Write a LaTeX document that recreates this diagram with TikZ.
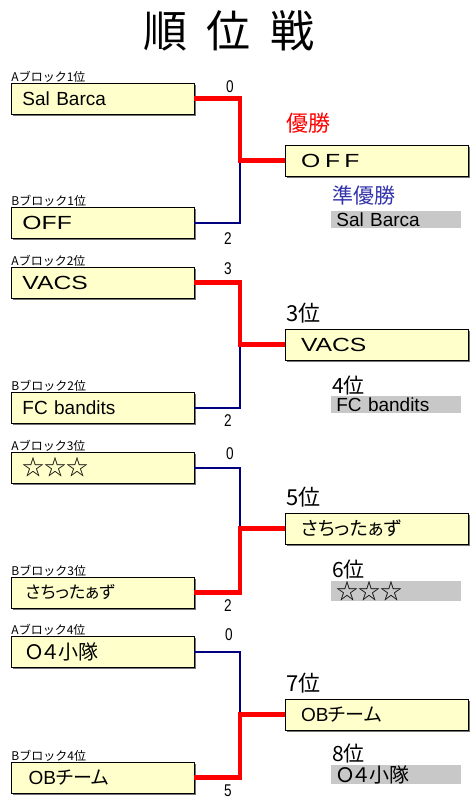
\documentclass[tikz,border=0pt]{standalone}
\usepackage{fontspec}
\setmainfont{Liberation Sans}
\newfontfamily\jpfont{Noto Sans CJK JP}
\newfontfamily\jppfont[RawFeature=+palt]{Noto Sans CJK JP}
\newfontfamily\widefont[FakeStretch=1.3]{Liberation Sans}
\newfontfamily\narrowfont[FakeStretch=0.8]{Liberation Sans}
\usetikzlibrary{positioning, shadows}
\definecolor{teamfill}{RGB}{255, 255, 204}
\definecolor{winred}{RGB}{255, 0, 0}
\definecolor{losenavy}{RGB}{0, 0, 128}
\definecolor{runnerblue}{RGB}{51, 51, 170}
\definecolor{barfill}{RGB}{200, 200, 200}
\newcommand{\jtext}[1]{{\jppfont #1}}
\newcommand{\startext}{{\jpfont\fontsize{22}{22}\selectfont ☆☆☆}}
\newcommand{\smalltai}{{\jppfont\fontsize{20}{20}\selectfont Ｏ４小隊}}

\begin{document}
\begin{tikzpicture}[
    x=1pt, y=-1pt,
    % Define styles
    team/.style = {rectangle, draw=black, fill=teamfill, minimum width=183pt, minimum height=31pt, text width=160pt, inner xsep=11pt, inner ysep=0pt, align=left, font=\fontsize{19}{19}\selectfont, drop shadow={shadow xshift=1.5pt, shadow yshift=-1.5pt, fill=black!55, opacity=1}},
    final/.style = {team, text width=152pt, inner xsep=15pt},
    blocklabel/.style = {font=\jpfont\fontsize{12}{12}\selectfont, inner sep=0.5pt, anchor=south west},
    score/.style = {font=\narrowfont\fontsize{17}{17}\selectfont, inner sep=0pt},
    rank/.style = {font=\jpfont\fontsize{22}{22}\selectfont, inner sep=0pt, anchor=west},
    subrank/.style = {rank, font=\jpfont\fontsize{21}{21}\selectfont},
    runner/.style = {rectangle, fill=barfill, minimum width=130pt, minimum height=17pt, text width=126pt, inner xsep=2pt, inner ysep=0pt, align=left, anchor=north west, font=\fontsize{19}{19}\selectfont},
    win/.style = {draw=winred, line width=4.5pt},
    lose/.style = {draw=losenavy, line width=2pt}
]
\useasboundingbox (0,0) rectangle (475,801);

% Title
\node [font=\jpfont\fontsize{44}{44}\selectfont] (title) at (229,31) {順\hspace{0.45em}位\hspace{0.45em}戦};

% Block teams
\node [team] (a1) at (102.5,98.5) {Sal Barca};
\node [team] (b1) at (102.5,222.5) {\widefont OFF};
\node [team] (a2) at (102.5,282.5) {\widefont VACS};
\node [team] (b2) at (102.5,407.5) {FC bandits};
\node [team] (a3) at (102.5,467.5) {\startext};
\node [team] (b3) at (102.5,592.5) {\jtext{\fontsize{17}{17}\selectfont\,さちったぁず}};
\node [team] (a4) at (102.5,652) {\,\smalltai};
\node [team] (b4) at (102.5,777.5) {\hspace{6pt}OB\jtext{チーム}};

% Block labels
\node [blocklabel] (la1) at (a1.north west) {Aブロック1位};
\node [blocklabel] (lb1) at (b1.north west) {Bブロック1位};
\node [blocklabel] (la2) at (a2.north west) {Aブロック2位};
\node [blocklabel] (lb2) at (b2.north west) {Bブロック2位};
\node [blocklabel] (la3) at (a3.north west) {Aブロック3位};
\node [blocklabel] (lb3) at (b3.north west) {Bブロック3位};
\node [blocklabel] (la4) at (a4.north west) {Aブロック4位};
\node [blocklabel] (lb4) at (b4.north west) {Bブロック4位};

% Winners
\node [final] (r1) at (377,160.5) {\widefont O\hspace{5pt}F\hspace{4pt}F};
\node [final] (r2) at (377,344.5) {\widefont VACS};
\node [final] (r3) at (377,528.5) {\jtext{さちったぁず}};
\node [final] (r4) at (377,714.5) {OB\jtext{チーム}};

% Junctions
\coordinate (j1) at (240,160.5);
\coordinate (j2) at (240,344.5);
\coordinate (j3) at (240,528.5);
\coordinate (j4) at (240,714.5);

% Lines
\draw [lose] (b1.east) -| (j1);
\draw [win] (a1.east) -| (j1) -- (r1.west);
\draw [lose] (b2.east) -| (j2);
\draw [win] (a2.east) -| (j2) -- (r2.west);
\draw [lose] (a3.east) -| (j3);
\draw [win] (b3.east) -| (j3) -- (r3.west);
\draw [lose] (a4.east) -| (j4);
\draw [win] (b4.east) -| (j4) -- (r4.west);

% Scores
\node [score] (s1a) at (230,87) {0};
\node [score] (s1b) at (228,239) {2};
\node [score] (s2a) at (228,269) {3};
\node [score] (s2b) at (228,421) {2};
\node [score] (s3a) at (230,454) {0};
\node [score] (s3b) at (228,606) {2};
\node [score] (s4a) at (229,635) {0};
\node [score] (s4b) at (228,791) {5};

% Ranks
\node [rank, text=winred] (p1) at (286,123) {優勝};
\node [rank] (p3) at (286,313) {3位};
\node [rank] (p5) at (286,497) {5位};
\node [rank] (p7) at (286,683) {7位};
\node [subrank, text=runnerblue] (p2) at (332,196) {準優勝};
\node [subrank] (p4) at (332,386) {4位};
\node [subrank] (p6) at (332,570) {6位};
\node [subrank] (p8) at (332,754) {8位};

% Losers
\node [runner] (n2) at (331,211) {\,Sal Barca};
\node [runner] (n4) at (331,396) {\,FC bandits};
\node [runner] (n6) at (331,581) {\,\startext};
\node [runner] (n8) at (331,765) {\,\smalltai};

\end{tikzpicture}
\end{document}
